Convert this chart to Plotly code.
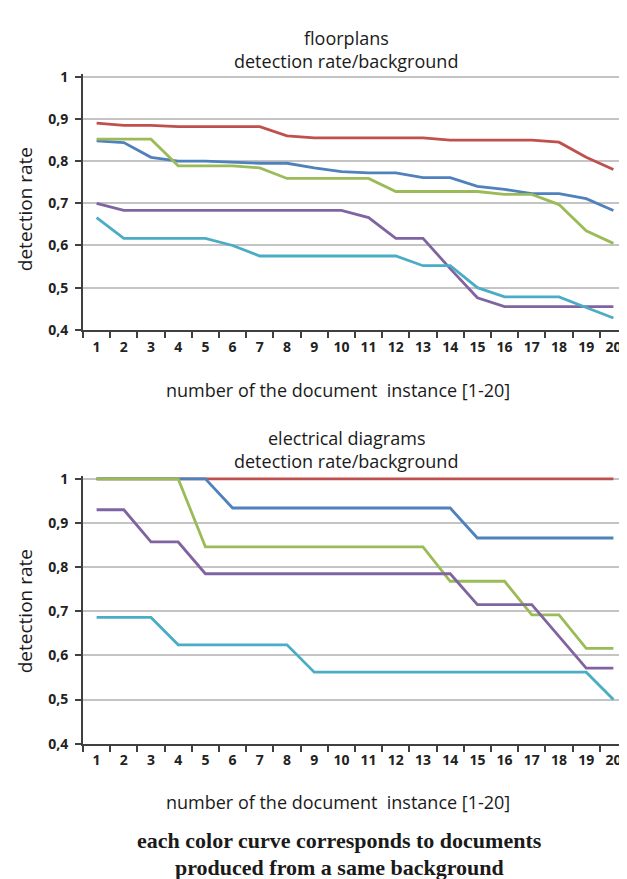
import plotly.graph_objects as go

categories = [str(i) for i in range(1, 21)]

# floorplans
fp_blue   = [0.848, 0.844, 0.809, 0.800, 0.800, 0.797, 0.795, 0.795, 0.784, 0.775,
             0.772, 0.772, 0.761, 0.761, 0.740, 0.733, 0.723, 0.723, 0.711, 0.683]
fp_red    = [0.890, 0.885, 0.885, 0.882, 0.882, 0.882, 0.882, 0.860, 0.855, 0.855,
             0.855, 0.855, 0.855, 0.850, 0.850, 0.850, 0.850, 0.845, 0.809, 0.780]
fp_green  = [0.852, 0.852, 0.852, 0.789, 0.789, 0.789, 0.784, 0.759, 0.759, 0.759,
             0.759, 0.728, 0.728, 0.728, 0.728, 0.721, 0.721, 0.697, 0.635, 0.605]
fp_purple = [0.700, 0.683, 0.683, 0.683, 0.683, 0.683, 0.683, 0.683, 0.683, 0.683,
             0.666, 0.617, 0.617, 0.545, 0.476, 0.455, 0.455, 0.455, 0.455, 0.455]
fp_cyan   = [0.666, 0.617, 0.617, 0.617, 0.617, 0.600, 0.575, 0.575, 0.575, 0.575,
             0.575, 0.575, 0.552, 0.552, 0.500, 0.478, 0.478, 0.478, 0.453, 0.428]

# electrical diagrams
ed_blue   = [1.0, 1.0, 1.0, 1.0, 1.0, 0.934, 0.934, 0.934, 0.934, 0.934,
             0.934, 0.934, 0.934, 0.934, 0.866, 0.866, 0.866, 0.866, 0.866, 0.866]
ed_red    = [1.0] * 20
ed_green  = [1.0, 1.0, 1.0, 1.0, 0.846, 0.846, 0.846, 0.846, 0.846, 0.846,
             0.846, 0.846, 0.846, 0.768, 0.768, 0.768, 0.692, 0.692, 0.616, 0.616]
ed_purple = [0.930, 0.930, 0.857, 0.857, 0.785, 0.785, 0.785, 0.785, 0.785, 0.785,
             0.785, 0.785, 0.785, 0.785, 0.715, 0.715, 0.715, 0.643, 0.571, 0.571]
ed_cyan   = [0.686, 0.686, 0.686, 0.624, 0.624, 0.624, 0.624, 0.624, 0.562, 0.562,
             0.562, 0.562, 0.562, 0.562, 0.562, 0.562, 0.562, 0.562, 0.562, 0.500]

y_tickvals = [0.4, 0.5, 0.6, 0.7, 0.8, 0.9, 1.0]
y_ticktext = ["0,4", "0,5", "0,6", "0,7", "0,8", "0,9", "1"]

colors = {"blue": "#4F81BD", "red": "#C0504D", "green": "#9BBB59",
          "purple": "#8064A2", "cyan": "#4BACC6"}

W, H = 627, 879
fig = go.Figure()

def add_series(series, xa, ya):
    for name, vals in series:
        fig.add_trace(go.Scatter(x=categories, y=vals, mode="lines", xaxis=xa, yaxis=ya,
                                 line=dict(color=colors[name], width=2.8), showlegend=False,
                                 name=name))

add_series([("blue", fp_blue), ("red", fp_red), ("green", fp_green),
            ("purple", fp_purple), ("cyan", fp_cyan)], "x", "y")
add_series([("red", ed_red), ("blue", ed_blue), ("green", ed_green),
            ("purple", ed_purple), ("cyan", ed_cyan)], "x2", "y2")

xdom = [75 / W, 619 / W]
ymax = 1.006
ppu1 = (320 - 62) / 0.6
ppu2 = (742 - 472) / 0.6
ydom1 = [1 - 320 / H, 1 - (62 - (ymax - 1.0) * ppu1) / H]
ydom2 = [1 - 742 / H, 1 - (472 - (ymax - 1.0) * ppu2) / H]

font_main = "Open Sans, Lato, sans-serif"
tickfont = dict(family=font_main, size=14, color="#222222", weight="bold")

xaxis_common = dict(domain=xdom, type="category", tickson="boundaries", ticks="outside",
                    ticklen=6, tickwidth=1.5, tickcolor="#404040", showline=True,
                    linecolor="#404040", linewidth=1.8, showgrid=False, zeroline=False,
                    tickfont=tickfont, tickangle=0, ticklabelstandoff=3,
                    range=[-0.5, 19.5], fixedrange=True)
yaxis_common = dict(range=[0.4, ymax], tickvals=y_tickvals, ticktext=y_ticktext,
                    ticks="outside", ticklen=6, tickwidth=1.5, tickcolor="#404040",
                    showline=True, linecolor="#404040", linewidth=1.8,
                    showgrid=True, gridcolor="#C4C4C4", gridwidth=1.5, zeroline=False,
                    tickfont=tickfont, ticklabelstandoff=4)

fig.update_layout(
    width=W, height=H, margin=dict(l=0, r=0, t=0, b=0),
    paper_bgcolor="white", plot_bgcolor="white",
    xaxis=dict(anchor="y", **xaxis_common),
    yaxis=dict(domain=ydom1, anchor="x", **yaxis_common),
    xaxis2=dict(anchor="y2", **xaxis_common),
    yaxis2=dict(domain=ydom2, anchor="x2", **yaxis_common),
)

def ann(text, xpx, ypx, size=14, family=font_main, angle=0, bold=False):
    fig.add_annotation(text=("<b>%s</b>" % text) if bold else text,
                       x=xpx / W, y=1 - ypx / H, xref="paper", yref="paper",
                       showarrow=False, xanchor="center", yanchor="middle",
                       textangle=angle, font=dict(family=family, size=size, color="#1a1a1a"))

ann("floorplans", 338, 22, size=18)
ann("detection rate/background", 338, 46, size=18)
ann("electrical diagrams", 338, 430, size=18)
ann("detection rate/background", 338, 454, size=18)
ann("number of the document  instance [1-20]", 330, 381, size=18)
ann("number of the document  instance [1-20]", 330, 801, size=18)
ann("detection rate", 17, 197, angle=-90, size=19)
ann("detection rate", 17, 607, angle=-90, size=19)
ann("each color curve corresponds to documents", 331, 841, size=22,
    family="Liberation Serif, Times New Roman, serif", bold=True)
ann("produced from a same background", 331, 868, size=22,
    family="Liberation Serif, Times New Roman, serif", bold=True)

fig.write_html("out.html")
